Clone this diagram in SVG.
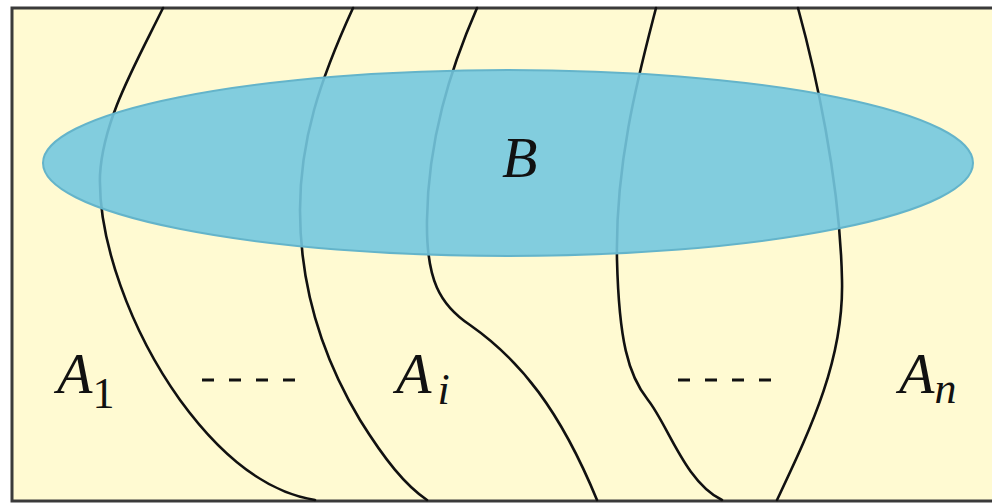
<svg xmlns="http://www.w3.org/2000/svg" width="992" height="503" viewBox="0 0 992 503">
<style>
.bd{fill:none;stroke:#111;stroke-width:2.6;stroke-linecap:round}
.lbl{font-family:"Liberation Serif","Times New Roman",serif;font-style:italic;fill:#111}
.sub{font-family:"Liberation Serif","Times New Roman",serif;fill:#111}
.dash{stroke:#111;stroke-width:3;stroke-dasharray:12 15}
</style>
<rect x="12" y="8" width="990" height="493" fill="#FFFAD2" stroke="#3a3a3a" stroke-width="3"/>
<g id="connectors">
<path class="bd" d="M163,8 C135,65 103,120 100,175 C98,240 130,330 180,400 C220,455 265,492 315,500"/>
<path class="bd" d="M353,8 C320,80 300,140 300,210 C300,300 330,370 360,420 C385,460 405,485 427,500"/>
<path class="bd" d="M477,8 C450,70 428,140 427,220 C426,280 440,305 470,325 C520,360 560,410 597,500"/>
<path class="bd" d="M656,8 C640,70 615,160 617,260 C619,340 628,375 648,400 C668,425 685,482 722,500"/>
<path class="bd" d="M798,8 C815,70 840,180 842,280 C844,360 810,430 777,500"/>
<line class="dash" x1="202" y1="380" x2="295" y2="380"/>
<line class="dash" x1="678" y1="380" x2="771" y2="380"/>
</g>
<g id="B">
<ellipse cx="508" cy="163" rx="465" ry="93" fill="#74C8DF" fill-opacity="0.9" stroke="#64B4CA" stroke-width="2"/>
<text class="lbl" x="502" y="177" font-size="58">B</text>
</g>
<g id="A1"><text class="lbl" x="57" y="393" font-size="58">A<tspan class="sub" font-style="normal" font-size="44" dy="15">1</tspan></text></g>
<g id="Ai"><text class="lbl" x="396" y="393" font-size="58">A<tspan font-size="44" dx="6" dy="11">i</tspan></text></g>
<g id="An"><text class="lbl" x="899" y="393" font-size="58">A<tspan font-size="44" dy="10">n</tspan></text></g>
</svg>
